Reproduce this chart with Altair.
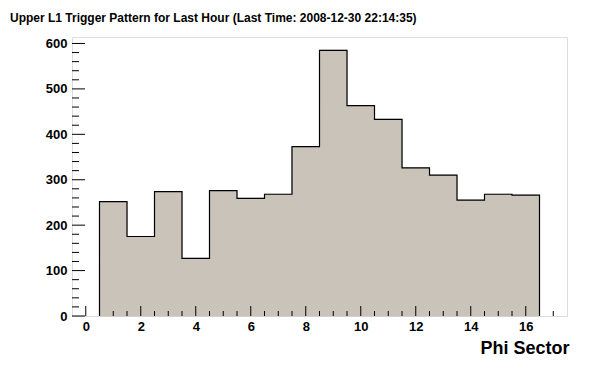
import altair as alt
import pandas as pd

# ---- data ----
phi_sector = list(range(1, 17))
counts = [252, 175, 274, 127, 276, 259, 268, 373, 585, 463, 433, 326, 310, 255, 268, 266]

x_major = [0, 2, 4, 6, 8, 10, 12, 14, 16]
x_minor = [0.5, 1, 1.5, 2.5, 3, 3.5, 4.5, 5, 5.5, 6.5, 7, 7.5, 8.5, 9, 9.5,
           10.5, 11, 11.5, 12.5, 13, 13.5, 14.5, 15, 15.5, 16.5, 17]
y_major = [0, 100, 200, 300, 400, 500, 600]
y_minor = [20, 40, 60, 80, 120, 140, 160, 180, 220, 240, 260, 280, 320, 340, 360, 380,
           420, 440, 460, 480, 520, 540, 560, 580]

X_DOMAIN = [-0.5, 17.5]
Y_DOMAIN = [0, 1.05 * max(counts)]

W, H = 495, 279
FILL = "#c9c3ba"
FONT = "Liberation Sans"

# ---- tables built from the arrays ----
bars = pd.DataFrame({
    "lo": [p - 0.5 for p in phi_sector],
    "hi": [p + 0.5 for p in phi_sector],
    "count": counts,
})

outline_x, outline_y = [phi_sector[0] - 0.5], [0]
for p, c in zip(phi_sector, counts):
    outline_x += [p - 0.5, p + 0.5]
    outline_y += [c, c]
outline_x.append(phi_sector[-1] + 0.5)
outline_y.append(0)
outline = pd.DataFrame({"x": outline_x, "y": outline_y, "i": list(range(len(outline_x)))})

xs = alt.Scale(domain=X_DOMAIN, nice=False, zero=False)
ys = alt.Scale(domain=Y_DOMAIN, nice=False, zero=False)

x_axis = alt.Axis(values=x_major, ticks=False, domain=False, grid=False,
                  labelFont=FONT, labelFontWeight="bold", labelFontSize=13,
                  labelColor="black", labelPadding=4, labelFlush=False,
                  title="Phi Sector", titleFont=FONT, titleFontWeight="bold",
                  titleFontSize=18, titleColor="black", titleAnchor="end",
                  titleAlign="right", titleX=W + 2, titleY=37,
                  titleBaseline="alphabetic")
y_axis = alt.Axis(values=y_major, ticks=False, domain=False, grid=False,
                  labelFont=FONT, labelFontWeight="bold", labelFontSize=13,
                  labelColor="black", labelPadding=5, labelFlush=False,
                  labelBaseline="middle", title=None)

fill_layer = alt.Chart(bars).mark_rect(fill=FILL, stroke=FILL, strokeWidth=1).encode(
    x=alt.X("lo:Q", scale=xs, axis=x_axis),
    x2="hi:Q",
    y=alt.Y("count:Q", scale=ys, axis=y_axis),
    y2=alt.datum(0),
)

line_layer = alt.Chart(outline).mark_line(color="black", strokeWidth=1.2,
                                          interpolate="linear").encode(
    x=alt.X("x:Q", scale=xs),
    y=alt.Y("y:Q", scale=ys),
    order="i:Q",
)

def xticks(vals, size):
    return alt.Chart(pd.DataFrame({"v": vals})).mark_rule(color="black", strokeWidth=1).encode(
        x=alt.X("v:Q", scale=xs),
        y=alt.value(H),
        y2=alt.value(H - size),
    )

def yticks(vals, size):
    return alt.Chart(pd.DataFrame({"v": vals})).mark_rule(color="black", strokeWidth=1).encode(
        y=alt.Y("v:Q", scale=ys),
        x=alt.value(0),
        x2=alt.value(size),
    )

chart = alt.layer(
    fill_layer, line_layer,
    xticks(x_major, 10), xticks(x_minor, 5),
    yticks(y_major, 13), yticks(y_minor, 7),
).properties(
    width=W, height=H,
    title=alt.TitleParams(
        "Upper L1 Trigger Pattern for Last Hour (Last Time: 2008-12-30 22:14:35)",
        anchor="start", frame="group", font=FONT, fontWeight="bold", fontSize=12,
        color="black", dx=-62, offset=3, baseline="alphabetic",
    ),
    autosize=alt.AutoSizeParams(type="none"),
    padding={"left": 64, "top": 29, "right": 21, "bottom": 48},
).configure_view(
    stroke="black", strokeWidth=1.2, fill="white"
).configure(background="white")

chart.save("out.html", embed_options={"renderer": "svg", "actions": False})
